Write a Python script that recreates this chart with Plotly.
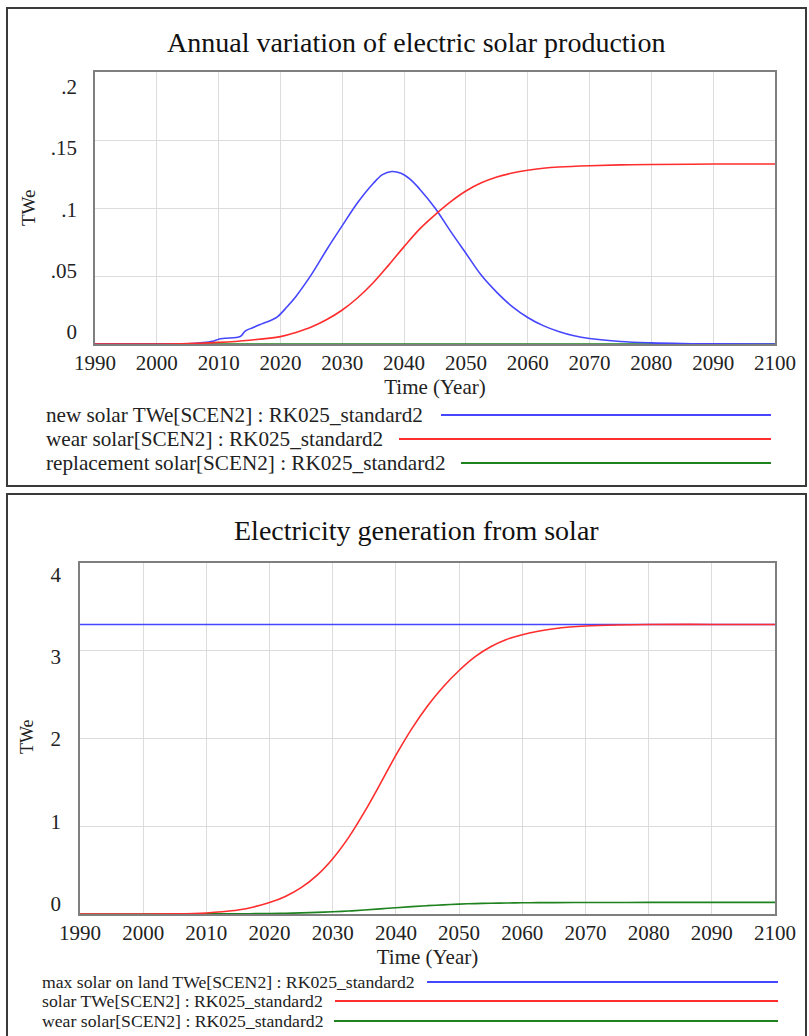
import plotly.graph_objects as go

W, H = 809, 1036

# ---- data ----
x_ticks = [1990, 2000, 2010, 2020, 2030, 2040, 2050, 2060, 2070, 2080, 2090, 2100]

# top chart: annual variation of electric solar production (TWe)
new_solar_years = [1990, 2000, 2005, 2007.5, 2009, 2010, 2011, 2013.5, 2014.3, 2015.5, 2017, 2018.5,
                   2019.5, 2021, 2022.5, 2025, 2027.5, 2030, 2032.5, 2035, 2036.5, 2038, 2039.5,
                   2041, 2042.5, 2045, 2047.5, 2050, 2052.5, 2055, 2057.5, 2060, 2062.5, 2065,
                   2067.5, 2070, 2075, 2080, 2085, 2090, 2100]
new_solar = [0, 0, 0.0002, 0.001, 0.002, 0.0035, 0.0042, 0.0055, 0.0095, 0.012, 0.0148, 0.0175,
             0.020, 0.027, 0.035, 0.051, 0.0695, 0.087, 0.104, 0.118, 0.1245, 0.1268, 0.1255,
             0.121, 0.114, 0.100, 0.083, 0.0667, 0.0505, 0.038, 0.0275, 0.0195, 0.0135, 0.0092,
             0.006, 0.004, 0.0018, 0.0008, 0.0003, 0.0001, 0]

wear_years = [1990, 2000, 2005, 2010, 2015, 2020, 2022.5, 2025, 2027.5, 2030, 2032.5, 2035, 2037.5,
              2040, 2042.5, 2045, 2047.5, 2050, 2052.5, 2055, 2057.5, 2060, 2062.5, 2065, 2070,
              2075, 2080, 2090, 2100]
wear_solar = [0, 0, 0.0003, 0.0012, 0.0028, 0.0054, 0.0085, 0.0125, 0.018, 0.025, 0.034, 0.045,
              0.058, 0.0716, 0.0845, 0.095, 0.1045, 0.1125, 0.1185, 0.1228, 0.1257, 0.1278, 0.1292,
              0.1301, 0.1311, 0.1317, 0.1320, 0.1323, 0.1324]

replacement_years = [1990, 2100]
replacement_solar = [0, 0]

top_tickvals = [0, 0.05, 0.1, 0.15, 0.2]
top_ticktext = ['0', '.05', '.1', '.15', '.2']

# bottom chart: electricity generation from solar (TWe)
max_land_years = [1990, 2100]
max_solar_land = [3.3, 3.3]

solar_years = [1990, 2000, 2005, 2008, 2010, 2012.5, 2015, 2017.5, 2020, 2022.5, 2025, 2027.5,
               2030, 2032.5, 2035, 2037.5, 2040, 2042.5, 2045, 2047.5, 2050, 2052.5, 2055,
               2057.5, 2060, 2062.5, 2065, 2067.5, 2070, 2075, 2080, 2090, 2100]
solar_twe = [0, 0, 0.002, 0.006, 0.012, 0.025, 0.045, 0.08, 0.13, 0.2, 0.3, 0.44,
             0.63, 0.87, 1.16, 1.48, 1.81, 2.11, 2.37, 2.59, 2.775, 2.93, 3.045,
             3.128, 3.183, 3.222, 3.25, 3.27, 3.282, 3.294, 3.3, 3.3, 3.3]

bottom_tickvals = [0, 1, 2, 3, 4]
bottom_ticktext = ['0', '1', '2', '3', '4']

BLUE = 'rgb(70,70,255)'
RED = 'rgb(255,45,45)'
GREEN = 'rgb(30,130,30)'
FONT = 'Liberation Serif, Times New Roman, serif'


def px(x):
    return x / W


def py(y):
    return 1 - y / H


fig = go.Figure()

smooth = dict(shape='spline', smoothing=1.0)

# top chart traces (green under blue, red on top)
fig.add_trace(go.Scatter(x=replacement_years, y=replacement_solar, mode='lines',
                         line=dict(color=GREEN, width=1.6), xaxis='x', yaxis='y'))
fig.add_trace(go.Scatter(x=new_solar_years, y=new_solar, mode='lines',
                         line=dict(color=BLUE, width=1.6, **smooth), xaxis='x', yaxis='y'))
fig.add_trace(go.Scatter(x=wear_years, y=wear_solar, mode='lines',
                         line=dict(color=RED, width=1.6, **smooth), xaxis='x', yaxis='y'))

# bottom chart traces
fig.add_trace(go.Scatter(x=wear_years, y=wear_solar, mode='lines',
                         line=dict(color=GREEN, width=1.6, **smooth), xaxis='x2', yaxis='y2'))
fig.add_trace(go.Scatter(x=max_land_years, y=max_solar_land, mode='lines',
                         line=dict(color=BLUE, width=1.6), xaxis='x2', yaxis='y2'))
fig.add_trace(go.Scatter(x=solar_years, y=solar_twe, mode='lines',
                         line=dict(color=RED, width=1.6, **smooth), xaxis='x2', yaxis='y2'))

# empty traces so the label axes get drawn
fig.add_trace(go.Scatter(x=[], y=[], xaxis='x', yaxis='y3'))
fig.add_trace(go.Scatter(x=[], y=[], xaxis='x2', yaxis='y4'))

tickfont = dict(family=FONT, size=21, color='#222')
axis_common = dict(showline=True, linecolor='#7f7f7f', linewidth=2, mirror=True,
                   gridcolor='#dcdcdc', gridwidth=1, zeroline=False, ticks='', automargin=False)
label_axis = dict(showgrid=False, showline=False, zeroline=False, ticks='', automargin=False,
                  side='left', tickfont=tickfont)
xtitle = dict(text='Time (Year)', font=dict(family=FONT, size=21, color='#222'), standoff=0)

top_dom_x = [px(95), px(775)]
top_dom_y = [py(344), py(72)]
bot_dom_x = [px(80), px(775)]
bot_dom_y = [py(914), py(563)]

fig.update_layout(
    width=W, height=H, autosize=False,
    margin=dict(l=0, r=0, t=0, b=0, pad=0, autoexpand=False),
    paper_bgcolor='white', plot_bgcolor='white',
    showlegend=False,
    xaxis=dict(domain=top_dom_x, anchor='y', range=[1990, 2100], tickvals=x_ticks,
               tickfont=tickfont, ticklabelstandoff=-1, title=xtitle, **axis_common),
    yaxis=dict(domain=top_dom_y, anchor='x', range=[0, 0.2], tickvals=top_tickvals,
               showticklabels=False, **axis_common),
    yaxis3=dict(overlaying='y', anchor='x', range=[-0.01, 0.212],
                tickvals=top_tickvals, ticktext=top_ticktext, ticklabelstandoff=17, **label_axis),
    xaxis2=dict(domain=bot_dom_x, anchor='y2', range=[1990, 2100], tickvals=x_ticks,
                tickfont=tickfont, ticklabelstandoff=-1, title=xtitle, **axis_common),
    yaxis2=dict(domain=bot_dom_y, anchor='x2', range=[0, 4], tickvals=bottom_tickvals,
                showticklabels=False, **axis_common),
    yaxis4=dict(overlaying='y2', anchor='x2', range=[-0.13, 4.145],
                tickvals=bottom_tickvals, ticktext=bottom_ticktext, ticklabelstandoff=18, **label_axis),
)

shapes = []
# panel frames
shapes.append(dict(type='rect', xref='paper', yref='paper', x0=px(7), x1=px(806), y0=py(486), y1=py(8),
                   line=dict(color='#3a3a3a', width=2)))
shapes.append(dict(type='rect', xref='paper', yref='paper', x0=px(7), x1=px(806), y0=py(1040), y1=py(494),
                   line=dict(color='#3a3a3a', width=2)))


def note(text, x, y, size, **kw):
    return dict(text=text, x=px(x), y=py(y), xref='paper', yref='paper', showarrow=False,
                xanchor=kw.pop('xanchor', 'center'), yanchor='middle',
                font=dict(family=FONT, size=size, color=kw.pop('color', '#222')), **kw)


annotations = [
    note('Annual variation of electric solar production', 416, 43, 28, color='#111'),
    note('Electricity generation from solar', 416, 530, 28, color='#111'),
    note('TWe', 28, 208, 19, textangle=-90),
    note('TWe', 27, 737, 18, textangle=-90),
]

# legends: (label, colour, row y, line start x)
top_legend = [
    ('new solar TWe[SCEN2] : RK025_standard2', BLUE, 415, 441),
    ('wear solar[SCEN2] : RK025_standard2', RED, 439, 399),
    ('replacement solar[SCEN2] : RK025_standard2', GREEN, 463, 461),
]
bottom_legend = [
    ('max solar on land TWe[SCEN2] : RK025_standard2', BLUE, 982, 427),
    ('solar TWe[SCEN2] : RK025_standard2', RED, 1001, 335),
    ('wear solar[SCEN2] : RK025_standard2', GREEN, 1021, 334),
]
for items, x_text, x_end, size in [(top_legend, 44, 771, 21.2), (bottom_legend, 40, 778, 17.7)]:
    for label, color, yrow, xstart in items:
        annotations.append(note(label, x_text, yrow, size, xanchor='left'))
        shapes.append(dict(type='line', xref='paper', yref='paper', x0=px(xstart), x1=px(x_end),
                           y0=py(yrow), y1=py(yrow), line=dict(color=color, width=2)))

fig.update_layout(shapes=shapes, annotations=annotations)

fig.write_html("out.html", config={'displayModeBar': False},
               post_script="document.body.style.margin='0';")
